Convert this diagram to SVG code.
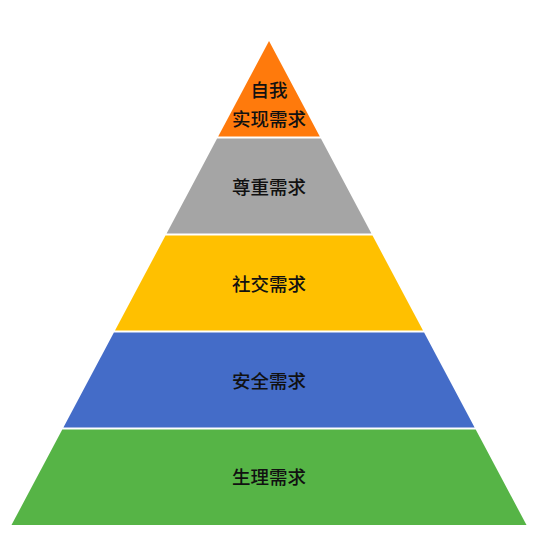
<svg xmlns="http://www.w3.org/2000/svg" width="542" height="557" viewBox="0 0 542 557">
<style>
text{font-family:"Noto Sans CJK SC","Noto Sans",sans-serif;font-size:18.5px;fill:#111;text-anchor:middle;dominant-baseline:central;font-weight:500}
</style>
<rect width="542" height="557" fill="#fff"/>
<g id="layer1"><polygon points="269,41 319.8,136.5 218.2,136.5" fill="#FF7A0C"/><text x="269" y="89">自我</text><text x="269" y="118">实现需求</text></g>
<g id="layer2"><polygon points="217.1,138.5 320.9,138.5 371.4,233.5 166.6,233.5" fill="#A5A5A5"/><text x="269" y="186">尊重需求</text></g>
<g id="layer3"><polygon points="165.5,235.5 372.5,235.5 423,330.5 115,330.5" fill="#FFC000"/><text x="269" y="283">社交需求</text></g>
<g id="layer4"><polygon points="113.9,332.5 424.1,332.5 474.6,427.5 63.4,427.5" fill="#446CC8"/><text x="269" y="380">安全需求</text></g>
<g id="layer5"><polygon points="62.3,429.5 475.7,429.5 526.5,525 11.5,525" fill="#56B446"/><text x="269" y="476">生理需求</text></g>
<g id="connectors"/>
</svg>
